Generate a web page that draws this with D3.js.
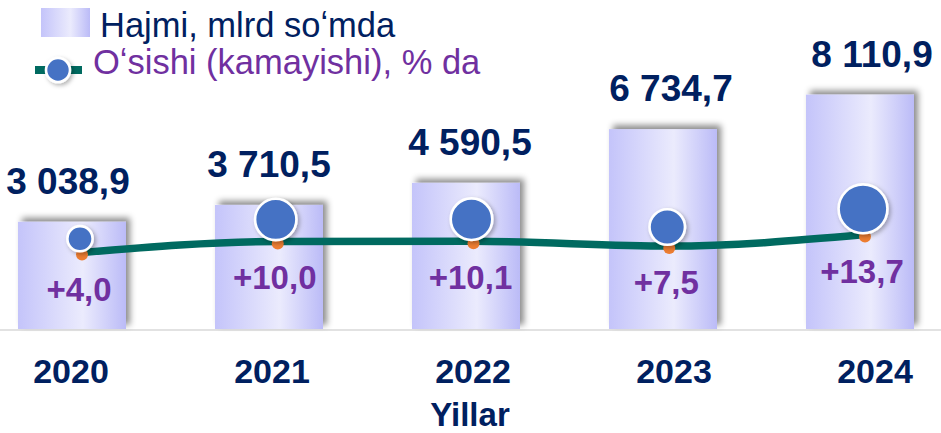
<!DOCTYPE html>
<html lang="uz">
<head>
    <meta charset="UTF-8">
    <script src="https://cdnjs.cloudflare.com/ajax/libs/d3/7.8.5/d3.min.js"></script>
    <title>Hajmi, mlrd soʻmda</title>
    <style>
        html, body {
            margin: 0;
            padding: 0;
            background: #ffffff;
        }

        .chart-container {
            width: 941px;
            height: 433px;
            font-family: "Liberation Sans", Arial, sans-serif;
        }

        .legend-text {
            font-size: 34.5px;
            font-weight: 400;
        }

        .value-label {
            fill: #002060;
            font-size: 37px;
            font-weight: 700;
        }

        .percent-label {
            fill: #7030a0;
            font-size: 33px;
            font-weight: 700;
        }

        .year-label {
            fill: #002060;
            font-size: 34px;
            font-weight: 700;
        }

        .axis-title {
            fill: #002060;
            font-size: 33px;
            font-weight: 700;
        }
    </style>
</head>
<body>
    <script>
        const years = ['2020', '2021', '2022', '2023', '2024'];
        const volumes = [3038.9, 3710.5, 4590.5, 6734.7, 8110.9];
        const growth = [4.0, 10.0, 10.1, 7.5, 13.7];
        const volumeLabels = ['3 038,9', '3 710,5', '4 590,5', '6 734,7', '8 110,9'];
        const growthLabels = ['+4,0', '+10,0', '+10,1', '+7,5', '+13,7'];

        const legendVolume = 'Hajmi, mlrd soʻmda';
        const legendGrowth = 'Oʻsishi (kamayishi), % da';
        const axisTitle = 'Yillar';

        const width = 941;
        const height = 433;
        const baseline = 329;
        const barWidth = 108;

        const colorLine = '#006a60';
        const colorBubble = '#4472c4';
        const colorDot = '#ed7d31';

        const svg = d3.select('body')
            .append('div')
            .attr('class', 'chart-container')
            .append('svg')
            .attr('width', width)
            .attr('height', height);

        const defs = svg.append('defs');

        // градиент столбцов
        const grad = defs.append('linearGradient')
            .attr('id', 'barGrad')
            .attr('x1', '0%').attr('x2', '100%')
            .attr('y1', '0%').attr('y2', '0%');
        grad.append('stop').attr('offset', '0%').attr('stop-color', '#c4c4fa');
        grad.append('stop').attr('offset', '60%').attr('stop-color', '#ebebfd');
        grad.append('stop').attr('offset', '100%').attr('stop-color', '#bbbbf7');

        const shadow = defs.append('filter')
            .attr('id', 'barShadow')
            .attr('x', '-20%').attr('y', '-20%')
            .attr('width', '140%').attr('height', '140%');
        shadow.append('feDropShadow')
            .attr('dx', 4).attr('dy', -4)
            .attr('stdDeviation', 3)
            .attr('flood-color', '#000')
            .attr('flood-opacity', 0.45);

        const dotShadow = defs.append('filter')
            .attr('id', 'dotShadow')
            .attr('x', '-50%').attr('y', '-50%')
            .attr('width', '200%').attr('height', '200%');
        dotShadow.append('feDropShadow')
            .attr('dx', 2).attr('dy', 2)
            .attr('stdDeviation', 2)
            .attr('flood-color', '#000')
            .attr('flood-opacity', 0.3);

        // шкалы
        const xAxis = d3.scalePoint().domain(years).range([71, 875]);
        const xBar = d3.scalePoint().domain(years).range([72, 860]);
        const xLine = d3.scalePoint().domain(years).range([82, 865]);

        const y = d3.scaleLinear().domain([0, 8000]).range([298, 97.4]);
        const yLine = d3.scaleLinear().domain([0, 14]).range([260, 234]);
        const r = d3.scaleSqrt().domain([0, 14]).range([0, 26]);

        const rows = years.map(function(year, i) {
            return { year: year, volume: volumes[i], growth: growth[i], vLabel: volumeLabels[i], gLabel: growthLabels[i] };
        });

        // базовая линия
        svg.append('line')
            .attr('x1', 0).attr('x2', width)
            .attr('y1', baseline + 1).attr('y2', baseline + 1)
            .attr('stroke', '#d9d9d9')
            .attr('stroke-width', 1.5);

        // столбцы
        svg.selectAll('.bar')
            .data(rows)
            .enter()
            .append('rect')
            .attr('class', 'bar')
            .attr('x', function(d) { return xBar(d.year) - barWidth / 2 })
            .attr('y', function(d) { return y(d.volume) })
            .attr('width', barWidth)
            .attr('height', function(d) { return baseline - y(d.volume) })
            .attr('fill', 'url(#barGrad)')
            .attr('filter', 'url(#barShadow)');

        // подписи объёма
        svg.selectAll('.value-label')
            .data(rows)
            .enter()
            .append('text')
            .attr('class', 'value-label')
            .attr('text-anchor', 'middle')
            .attr('x', function(d) { return xAxis(d.year) - 3 })
            .attr('y', function(d) { return y(d.volume) - 28 })
            .text(function(d) { return d.vLabel });

        // линия роста
        const line = d3.line()
            .x(function(d) { return xLine(d.year) })
            .y(function(d) { return yLine(d.growth) })
            .curve(d3.curveMonotoneX);

        svg.append('path')
            .datum(rows)
            .attr('d', line)
            .attr('fill', 'none')
            .attr('stroke', colorLine)
            .attr('stroke-width', 7.5);

        svg.selectAll('.dot')
            .data(rows)
            .enter()
            .append('circle')
            .attr('class', 'dot')
            .attr('cx', function(d) { return xLine(d.year) })
            .attr('cy', function(d) { return yLine(d.growth) + 2 })
            .attr('r', 6)
            .attr('fill', colorDot);

        svg.selectAll('.bubble')
            .data(rows)
            .enter()
            .append('circle')
            .attr('class', 'bubble')
            .attr('cx', function(d) { return xLine(d.year) - 2 })
            .attr('cy', function(d) { return yLine(d.growth) - r(d.growth) })
            .attr('r', function(d) { return r(d.growth) - 1.3 })
            .attr('fill', colorBubble)
            .attr('stroke', '#fff')
            .attr('stroke-width', 2.6)
            .attr('filter', 'url(#dotShadow)');

        // подписи процентов
        svg.selectAll('.percent-label')
            .data(rows)
            .enter()
            .append('text')
            .attr('class', 'percent-label')
            .attr('text-anchor', 'middle')
            .attr('x', function(d) { return xLine(d.year) - 3 })
            .attr('y', function(d) { return yLine(d.growth) + 48 })
            .text(function(d) { return d.gLabel });

        // ось лет
        svg.selectAll('.year-label')
            .data(years)
            .enter()
            .append('text')
            .attr('class', 'year-label')
            .attr('text-anchor', 'middle')
            .attr('x', function(d) { return xAxis(d) })
            .attr('y', 383)
            .text(function(d) { return d });

        svg.append('text')
            .attr('class', 'axis-title')
            .attr('text-anchor', 'middle')
            .attr('x', 470)
            .attr('y', 426)
            .text(axisTitle);

        // легенда
        const legend = svg.append('g').attr('class', 'legend');

        legend.append('rect')
            .attr('x', 41).attr('y', 8)
            .attr('width', 49).attr('height', 29)
            .attr('fill', 'url(#barGrad)');

        legend.append('text')
            .attr('class', 'legend-text')
            .attr('x', 100).attr('y', 37)
            .attr('fill', '#002060')
            .text(legendVolume);

        legend.append('line')
            .attr('x1', 35).attr('x2', 82)
            .attr('y1', 70).attr('y2', 70)
            .attr('stroke', colorLine)
            .attr('stroke-width', 8);

        legend.append('circle')
            .attr('cx', 58).attr('cy', 70)
            .attr('r', 12)
            .attr('fill', colorBubble)
            .attr('stroke', '#fff')
            .attr('stroke-width', 2.6)
            .attr('filter', 'url(#dotShadow)');

        legend.append('text')
            .attr('class', 'legend-text')
            .attr('x', 93).attr('y', 74)
            .attr('fill', '#7030a0')
            .text(legendGrowth);
    </script>
</body>
</html>
